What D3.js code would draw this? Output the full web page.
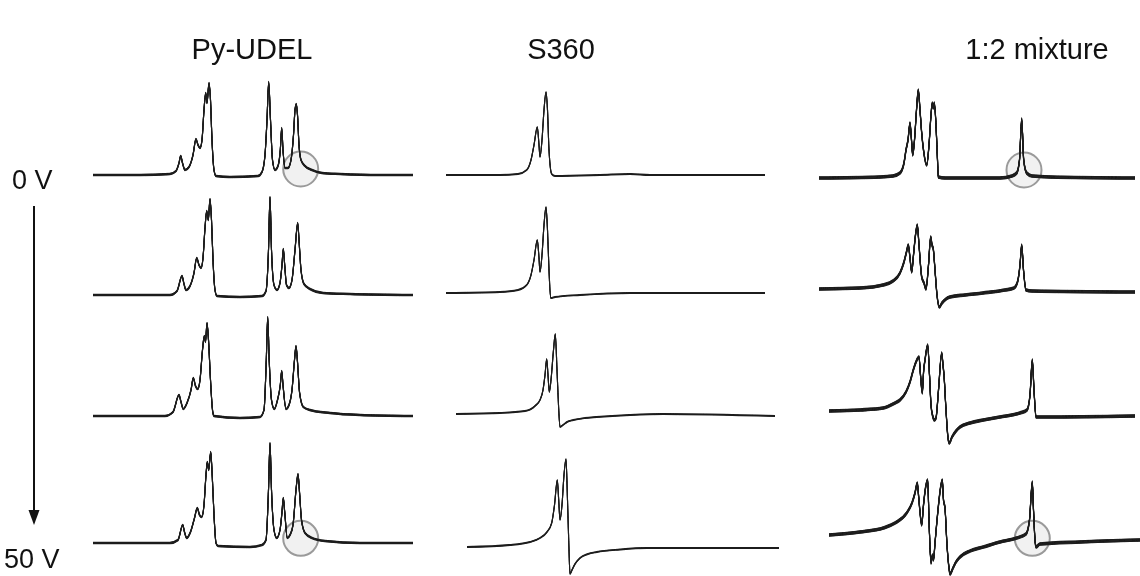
<!DOCTYPE html>
<html>
<head>
<meta charset="utf-8">
<script src="https://cdn.jsdelivr.net/npm/d3@7"></script>
<style>
  html, body { margin: 0; padding: 0; background: #fff; }
  svg { display: block; }
  text { font-family: "Liberation Sans", Arial, sans-serif; fill: #111; }
</style>
</head>
<body>
<svg id="chart" width="1140" height="576"></svg>
<script>
// Column headings (samples) and row labels (applied voltage)
const samples = ["Py-UDEL", "S360", "1:2 mixture"];
const voltageLabels = ["0 V", "50 V"];

// Spectra: [shift (a.u., left→right), intensity (a.u.)], one array per sample and voltage step
const pyUdel0 = [[3,1],[50,1],[80,2],[86,5],[89,13],[90.7,20],[92.5,13],[95,6],[99,9],[103,21],[106,37],[108,31],[110,28],[112,36],[114,66],[115.7,83],[117,73],[119,93],[120.5,76],[122,36],[124,6],[126,0],[140,-1],[168,0],[172,4],[175,21],[177,56],[178.7,94],[180.5,56],[182.5,16],[185,6],[188,10],[190.3,26],[191.7,48],[193,26],[195,8],[198,8],[201,16],[203.5,41],[205,66],[206.3,72],[207.5,61],[209,31],[211,16],[215,10],[222,6],[232,3],[250,2],[290,1],[323,1]];
const pyUdel1 = [[3,-1],[80,-1],[87,3],[92,18],[94,10],[96,4],[100,8],[104,21],[106.7,36],[109,29],[111,26],[113,36],[115,66],[116.7,83],[118.3,74],[120,95],[121.5,74],[123,34],[125,4],[127,-2],[150,-3],[172,-2],[176,3],[178.5,44],[180,97],[181.5,44],[184,9],[187,4],[190,11],[192,29],[193.3,45],[194.7,29],[196.5,9],[199,6],[202,14],[205,44],[207.7,71],[209,54],[211,24],[214,10],[220,5],[233,1],[260,0],[323,-1]];
const pyUdel2 = [[3,-2],[75,-2],[83,2],[89,19],[91,12],[93.3,5],[97,11],[101,24],[103.3,36],[105.5,28],[107.7,25],[110,34],[112.5,64],[114.3,78],[115.5,72],[117,91],[118.5,74],[120.5,34],[122.5,4],[124,-2],[150,-4],[170,-3],[174,4],[176.3,54],[177.7,97],[179.2,54],[181.5,14],[184.3,5],[187.5,14],[190.3,29],[191.7,43],[193,29],[196,5],[199,9],[202,24],[204.5,54],[206,68],[207.5,52],[209.5,22],[213.3,7],[220,4],[240,1],[270,-1],[323,-2]];
const pyUdel3 = [[3,1],[80,1],[88,4],[92.7,19],[94.5,12],[96.7,6],[100.5,12],[104.5,26],[107.3,36],[109.5,29],[111.7,27],[114,39],[116,69],[117.3,82],[118.7,74],[120.7,92],[122.2,69],[124,29],[126,1],[128,-2],[160,-3],[172,-1],[176,4],[178.5,54],[180,101],[181.5,54],[184,14],[186.7,6],[190,14],[192,32],[193.3,46],[194.7,32],[197.3,6],[200,9],[203,19],[206,54],[208,70],[209.5,52],[211.5,24],[215,11],[222,6],[235,3],[270,1],[323,1]];

const s360_0 = [[6,1],[60,1],[78,2],[86.7,6],[91,16],[94,31],[97.3,49],[99,31],[100,19],[102,36],[104,66],[106,84],[107.5,66],[109,26],[111.7,2],[115,0],[160,1],[190,2],[210,1],[325,1]];
const s360_1 = [[6,1],[60,2],[78,4],[86.7,9],[91,19],[94,34],[97.3,54],[99,36],[100,22],[102,39],[104,69],[106,87],[107.5,64],[109,24],[110.7,-4],[115,-3],[140,-1],[190,1],[325,1]];
const s360_2 = [[16,0],[60,1],[85,3],[95,8],[100,14],[103,24],[105,39],[106.7,55],[108,39],[109.3,22],[111,34],[113.5,64],[115.3,80],[117,44],[118.5,9],[120,-13],[123,-11],[127,-8],[133.3,-6],[145,-4],[156.7,-3],[190,-1],[223,0],[335,-2]];
const s360_3 = [[27,-3],[70,-1],[90,2],[100,6],[107,12],[111.7,21],[114.5,39],[117.3,64],[118.7,44],[120,24],[122,39],[124,69],[126,85],[127.5,44],[129,-6],[130,-30],[132,-26],[135,-20],[140,-14],[148,-10],[156.7,-8],[180,-5.5],[206.7,-4],[260,-4],[339,-4]];

const mix0 = [[4,-2],[65,-1],[78,0],[85,3],[89,13],[91,26],[93,36],[95,53],[96.5,36],[97.7,21],[99.5,36],[101.5,66],[103.3,86],[105,66],[106.7,43],[108.5,26],[111.7,11],[114,31],[116,61],[117.3,73],[118.3,68],[119.3,73],[121,51],[122.5,16],[123.3,-1],[130,-2],[185,-2],[197,0],[201.7,3],[204.5,16],[206.7,57],[208.7,16],[211.7,3],[217,0],[235,-1],[320,-2]];
const mix1 = [[4,5],[45,6],[68,9],[78,13],[85,21],[89,32],[91.5,42],[93.3,49],[95,36],[96.7,22],[98.5,39],[100.5,59],[102.3,69],[104,49],[106.7,17],[109,11],[111,5],[113.5,29],[115.7,57],[117,49],[118.3,45],[120,24],[122,-1],[124.3,-13],[127,-9],[135,-3],[150,-1],[168,1],[190,4],[199,6],[202.5,12],[205,29],[206.7,49],[208.5,24],[211,4],[217,3],[320,2]];
const mix2 = [[14,3],[45,4],[68.3,6],[80,11],[85,14],[91,22],[95,32],[98.3,44],[101,52],[104,57],[105.5,39],[107.3,21],[108.7,44],[110,54],[112.7,69],[114.5,39],[116,9],[117.7,-2],[119.5,-6],[121,-4],[123.5,24],[126.7,61],[128,49],[129,39],[131,4],[133,-24],[134.3,-29],[137,-23],[141,-17],[145,-13],[155,-9],[168.3,-6],[185,-3],[205,1],[212,4],[215,19],[217.3,54],[219,24],[221,-3],[230,-3],[320,-2]];
const mix3 = [[14,9],[45,12],[68.3,16],[80,21],[91.7,31],[97,41],[100,51],[102.3,61],[103.5,49],[105,32],[106.7,19],[108.5,39],[110.5,56],[112.7,64],[114,24],[116,-19],[117.5,-11],[118.5,-16],[120,1],[123,34],[125.5,56],[127.3,64],[128.5,44],[130,36],[132,-1],[134,-24],[135,-30],[138,-24],[141,-18],[145,-13],[155,-7],[168.3,-3],[185,2],[201.7,6],[211,10],[214.5,24],[217.3,62],[218.5,34],[220,4],[221,-3],[225,0],[265,2],[325,4]];

const spectra = [
  [pyUdel0, pyUdel1, pyUdel2, pyUdel3],
  [s360_0, s360_1, s360_2, s360_3],
  [mix0, mix1, mix2, mix3]
];

// Highlighted regions: [column, row, shift, intensity]
const highlights = [[0, 0, 210.7, 7], [0, 3, 210.7, 5.7], [2, 0, 209, 6], [2, 3, 217.3, 5.7]];

const svg = d3.select("#chart");

// Horizontal placement of each column and vertical placement of each row
const colLeft = [90, 440, 815];
const colSpan = 340;
const rowBase = [176, 294, 414, 544];
const baseThick = [0.7, 0.4, 1.3];   // apparent noise band of each sample's baseline

const xScales = colLeft.map(l => d3.scaleLinear().domain([0, colSpan]).range([l, l + colSpan]));
const yScales = rowBase.map(b => d3.scaleLinear().domain([0, 100]).range([b, b - 100]));

const defs = svg.append("defs");
defs.append("filter").attr("id", "soft")
  .append("feGaussianBlur").attr("stdDeviation", 0.35);

// Highlight circles (behind the traces)
svg.append("g").selectAll("circle")
  .data(highlights)
  .join("circle")
  .attr("cx", d => xScales[d[0]](d[2]))
  .attr("cy", d => yScales[d[1]](d[3]))
  .attr("r", 17.5)
  .attr("fill", "#efefef")
  .attr("fill-opacity", 0.9)
  .attr("stroke", "#9a9a9a")
  .attr("stroke-width", 2);

// Traces: a few vertically stacked strokes widen the flat baseline band
const traces = svg.append("g").attr("filter", "url(#soft)");
spectra.forEach((col, ci) => {
  col.forEach((pts, ri) => {
    const line = d3.line()
      .x(d => xScales[ci](d[0]))
      .y(d => yScales[ri](d[1]))
      .curve(d3.curveMonotoneX);
    const t = baseThick[ci];
    const n = Math.max(1, Math.ceil(t / 0.45));
    d3.range(-n, n + 1).map(k => k * t / n).forEach(off => {
      traces.append("path")
        .attr("d", line(pts))
        .attr("transform", `translate(0,${off})`)
        .attr("fill", "none")
        .attr("stroke", "#1c1c1c")
        .attr("stroke-width", 1.1)
        .attr("stroke-linejoin", "round");
    });
  });
});

// Column headings
const headX = [252, 561, 1037];
svg.append("g").selectAll("text")
  .data(samples)
  .join("text")
  .attr("x", (d, i) => headX[i])
  .attr("y", 59)
  .attr("text-anchor", "middle")
  .attr("font-size", 29)
  .text(d => d);

// Voltage labels and arrow
svg.append("text").attr("x", 12).attr("y", 189).attr("font-size", 27).text(voltageLabels[0]);
svg.append("text").attr("x", 4).attr("y", 568).attr("font-size", 27).text(voltageLabels[1]);

svg.append("line")
  .attr("x1", 34).attr("x2", 34)
  .attr("y1", 206).attr("y2", 512)
  .attr("stroke", "#111").attr("stroke-width", 2);
svg.append("path")
  .attr("d", d3.line()([[28.5, 510], [39.5, 510], [34, 525]]) + "Z")
  .attr("fill", "#111");
</script>
</body>
</html>
